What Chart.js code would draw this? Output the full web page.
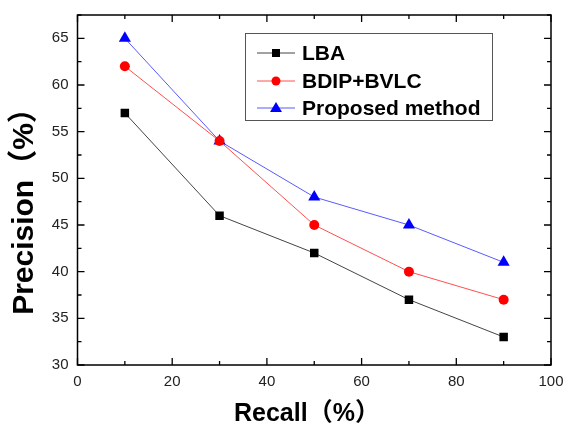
<!DOCTYPE html>
<html>
<head>
<meta charset="utf-8">
<script src="https://cdn.jsdelivr.net/npm/chart.js@4.4.1/dist/chart.umd.min.js"></script>
<style>
html,body{margin:0;padding:0;background:#fff;}
#wrap{width:563px;height:426px;position:relative;}
</style>
</head>
<body>
<div id="wrap"><canvas id="c" width="563" height="426"></canvas></div>
<script>
const recall = [10, 30, 50, 70, 90];
const lbaValues = [57, 46, 42, 37, 33];
const bdipValues = [62, 54, 45, 40, 37];
const proposedValues = [65, 54, 48, 45, 41];
const seriesNames = ['LBA', 'BDIP+BVLC', 'Proposed method'];
const xTicks = [0, 20, 40, 60, 80, 100];
const yTicks = [30, 35, 40, 45, 50, 55, 60, 65];
const xMinorTicks = [10, 30, 50, 70, 90];
const yMinorTicks = [32.5, 37.5, 42.5, 47.5, 52.5, 57.5, 62.5, 67.5];
const xTitle = 'Recall（%）';
const yTitle = 'Precision（%）';

const pts = ys => recall.map((x, i) => ({x: x, y: ys[i]}));

const framePlugin = {
  id: 'frame',
  afterDraw(chart) {
    const {ctx, chartArea: a, scales} = chart;
    const xs = scales.x, ys = scales.y;
    ctx.save();
    ctx.strokeStyle = '#000';
    ctx.lineWidth = 1.5;
    ctx.strokeRect(a.left, a.top, a.right - a.left, a.bottom - a.top);
    ctx.lineWidth = 1.3;
    const tick = (vals, len) => {
      vals.forEach(v => {
        const px = xs.getPixelForValue(v);
        ctx.beginPath();
        ctx.moveTo(px, a.bottom); ctx.lineTo(px, a.bottom - len);
        ctx.moveTo(px, a.top); ctx.lineTo(px, a.top + len);
        ctx.stroke();
      });
    };
    const ytick = (vals, len) => {
      vals.forEach(v => {
        const py = ys.getPixelForValue(v);
        ctx.beginPath();
        ctx.moveTo(a.left, py); ctx.lineTo(a.left + len, py);
        ctx.moveTo(a.right, py); ctx.lineTo(a.right - len, py);
        ctx.stroke();
      });
    };
    tick(xTicks, 7); tick(xMinorTicks, 4);
    ytick(yTicks, 7); ytick(yMinorTicks, 4);

    // axis titles
    ctx.fillStyle = '#000';
    ctx.font = 'bold 25px Arial, "Liberation Sans", "Noto Sans CJK SC", sans-serif';
    ctx.textAlign = 'left';
    ctx.textBaseline = 'alphabetic';
    ctx.fillText(xTitle, 234, 421);
    ctx.save();
    ctx.translate(33, 204);
    ctx.rotate(-Math.PI / 2);
    ctx.textAlign = 'center';
    ctx.font = 'bold 30px Arial, "Liberation Sans", "Noto Sans CJK SC", sans-serif';
    ctx.fillText(yTitle, 0, 0);
    ctx.restore();

    // legend
    const lx = 245, ly = 33, lw = 247, lh = 87;
    ctx.fillStyle = '#fff';
    ctx.fillRect(lx, ly, lw, lh);
    ctx.strokeStyle = '#555';
    ctx.lineWidth = 1;
    ctx.strokeRect(lx + 0.5, ly + 0.5, lw, lh);
    const rows = [53, 81, 108];
    chart.data.datasets.forEach((ds, i) => {
      const y = rows[i];
      ctx.strokeStyle = ds.borderColor;
      ctx.lineWidth = 1;
      ctx.beginPath();
      ctx.moveTo(257, y); ctx.lineTo(295, y);
      ctx.stroke();
      ctx.fillStyle = ds.pointBackgroundColor;
      ctx.beginPath();
      if (ds.pointStyle === 'rect') {
        ctx.rect(272, y - 4, 8, 8);
      } else if (ds.pointStyle === 'circle') {
        ctx.arc(276, y, 4.5, 0, Math.PI * 2);
      } else {
        ctx.moveTo(276, y - 6); ctx.lineTo(282, y + 4); ctx.lineTo(270, y + 4); ctx.closePath();
      }
      ctx.fill();
      ctx.fillStyle = '#000';
      ctx.font = 'bold 21px Arial, "Liberation Sans", sans-serif';
      ctx.textAlign = 'left';
      ctx.textBaseline = 'middle';
      ctx.fillText(ds.label, 302, y + 1);
    });
    ctx.restore();
  }
};

new Chart(document.getElementById('c'), {
  type: 'line',
  data: {
    datasets: [
      {label: seriesNames[0], data: pts(lbaValues), borderColor: '#444444', backgroundColor: '#000', pointBackgroundColor: '#000', pointBorderColor: '#000', pointStyle: 'rect', pointRadius: 6, borderWidth: 1, pointBorderWidth: 0},
      {label: seriesNames[1], data: pts(bdipValues), borderColor: '#ff5050', backgroundColor: '#ff0000', pointBackgroundColor: '#ff0000', pointBorderColor: '#ff0000', pointStyle: 'circle', pointRadius: 5, borderWidth: 1, pointBorderWidth: 0},
      {label: seriesNames[2], data: pts(proposedValues), borderColor: '#5a5aff', backgroundColor: '#0000ff', pointBackgroundColor: '#0000ff', pointBorderColor: '#0000ff', pointStyle: 'triangle', pointRadius: 7, borderWidth: 1, pointBorderWidth: 0}
    ]
  },
  options: {
    responsive: false,
    animation: false,
    events: [],
    layout: {autoPadding: false, padding: {left: 0, top: 15, right: 12, bottom: 0}},
    plugins: {legend: {display: false}, tooltip: {enabled: false}},
    scales: {
      x: {
        type: 'linear', min: 0, max: 100,
        grid: {display: false, drawTicks: false},
        border: {display: false},
        afterBuildTicks: s => { s.ticks = xTicks.map(v => ({value: v})); },
        afterFit: s => { s.height = 61; s.paddingLeft = 0; s.paddingRight = 0; },
        ticks: {color: '#222', padding: 8, font: {family: 'Arial, "Liberation Sans", sans-serif', size: 15}, maxRotation: 0}
      },
      y: {
        type: 'linear', min: 30, max: 67.5,
        grid: {display: false, drawTicks: false},
        border: {display: false},
        afterBuildTicks: s => { s.ticks = yTicks.map(v => ({value: v})); },
        afterFit: s => { s.width = 77.5; s.paddingTop = 0; s.paddingBottom = 0; },
        ticks: {color: '#222', padding: 9, font: {family: 'Arial, "Liberation Sans", sans-serif', size: 15}}
      }
    }
  },
  plugins: [framePlugin]
});
</script>
</body>
</html>
